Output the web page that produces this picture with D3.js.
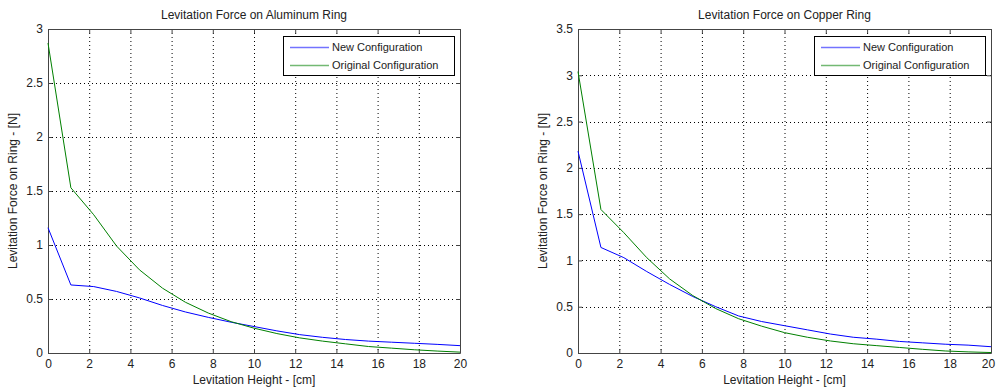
<!DOCTYPE html>
<html>
<head>
<meta charset="utf-8">
<script src="https://cdn.jsdelivr.net/npm/d3@7"></script>
<style>
  body { margin: 0; background: #fff; }
  svg text { font-family: "Liberation Sans", Arial, sans-serif; fill: #222; }
</style>
</head>
<body>
<div id="chart"></div>
<script>
// Levitation height samples [cm]
const heights = [0, 1.11, 2.22, 3.33, 4.44, 5.56, 6.67, 7.78, 8.89, 10,
                 11.11, 12.22, 13.33, 14.44, 15.56, 16.67, 17.78, 18.89, 20];

// Aluminum ring force [N]
const aluNew = [1.16, 0.63, 0.615, 0.57, 0.51, 0.44, 0.38, 0.33, 0.285, 0.245,
                0.205, 0.17, 0.145, 0.125, 0.11, 0.10, 0.09, 0.08, 0.068];
const aluOrig = [2.87, 1.53, 1.28, 0.99, 0.77, 0.60, 0.47, 0.37, 0.29, 0.23,
                 0.18, 0.14, 0.11, 0.085, 0.06, 0.045, 0.03, 0.018, 0.008];

// Copper ring force [N]
const cuNew = [2.18, 1.14, 1.03, 0.88, 0.74, 0.61, 0.50, 0.40, 0.34, 0.295,
               0.25, 0.205, 0.17, 0.15, 0.125, 0.11, 0.095, 0.085, 0.068];
const cuOrig = [3.04, 1.55, 1.30, 1.03, 0.80, 0.62, 0.48, 0.37, 0.29, 0.22,
                0.17, 0.13, 0.10, 0.08, 0.06, 0.04, 0.022, 0.012, 0.005];

const xTicks = [0, 2, 4, 6, 8, 10, 12, 14, 16, 18, 20];
const yTicksAlu = [0, 0.5, 1, 1.5, 2, 2.5, 3];
const yTicksCu = [0, 0.5, 1, 1.5, 2, 2.5, 3, 3.5];
const seriesNames = ["New Configuration", "Original Configuration"];
const seriesColors = ["#0000ff", "#008000"];

const svg = d3.select("#chart").append("svg")
    .attr("width", 996)
    .attr("height", 387);

function drawPanel(cfg) {
    const g = svg.append("g");
    const x = d3.scaleLinear().domain([0, 20]).range([cfg.left, cfg.right]);
    const y = d3.scaleLinear().domain([0, cfg.yMax]).range([cfg.bottom, cfg.top]);

    // grid lines
    g.append("g").selectAll("line")
        .data(xTicks.slice(1, -1))
        .join("line")
        .attr("x1", d => x(d) + 0.5).attr("x2", d => x(d) + 0.5)
        .attr("y1", cfg.top).attr("y2", cfg.bottom)
        .attr("stroke", "#000").attr("stroke-dasharray", "1,3");
    g.append("g").selectAll("line")
        .data(cfg.yTicks.slice(1, -1))
        .join("line")
        .attr("y1", d => Math.round(y(d)) + 0.5).attr("y2", d => Math.round(y(d)) + 0.5)
        .attr("x1", cfg.left).attr("x2", cfg.right)
        .attr("stroke", "#000").attr("stroke-dasharray", "1,3");

    // axes with inward ticks
    const axB = g.append("g").attr("transform", `translate(0,${cfg.bottom})`)
        .call(d3.axisBottom(x).tickValues(xTicks).tickSizeInner(-4).tickSizeOuter(0).tickPadding(6));
    const axT = g.append("g").attr("transform", `translate(0,${cfg.top})`)
        .call(d3.axisTop(x).tickValues(xTicks).tickSizeInner(-4).tickSizeOuter(0).tickFormat(""));
    const axL = g.append("g").attr("transform", `translate(${cfg.left},0)`)
        .call(d3.axisLeft(y).tickValues(cfg.yTicks).tickSizeInner(-4).tickSizeOuter(0).tickPadding(5)
            .tickFormat(d3.format("")));
    const axR = g.append("g").attr("transform", `translate(${cfg.right},0)`)
        .call(d3.axisRight(y).tickValues(cfg.yTicks).tickSizeInner(-4).tickSizeOuter(0).tickFormat(""));
    [axB, axT, axL, axR].forEach(a => {
        a.select(".domain").attr("stroke", "#444");
        a.selectAll(".tick line").attr("stroke", "#444");
        a.selectAll("text").style("font-size", "12px").attr("fill", "#333");
    });
    // keep the last x label inside the page
    if (cfg.lastDx) axB.selectAll(".tick text").filter(d => d === 20).attr("dx", cfg.lastDx);

    // series lines
    const line = d3.line().x((d, i) => x(heights[i])).y(d => y(d));
    cfg.series.forEach((s, k) => {
        g.append("path")
            .datum(s)
            .attr("d", line)
            .attr("fill", "none")
            .attr("stroke", seriesColors[k])
            .attr("stroke-width", 1);
    });

    // title and labels
    g.append("text")
        .attr("x", (cfg.left + cfg.right) / 2).attr("y", 19)
        .attr("text-anchor", "middle").style("font-size", "12px")
        .text(cfg.title);
    g.append("text")
        .attr("x", (cfg.left + cfg.right) / 2).attr("y", 384)
        .attr("text-anchor", "middle").style("font-size", "12px")
        .text("Levitation Height - [cm]");
    g.append("text")
        .attr("transform", `translate(${cfg.left - 31},${(cfg.top + cfg.bottom) / 2}) rotate(-90)`)
        .attr("text-anchor", "middle").style("font-size", "12px")
        .text("Levitation Force on Ring - [N]");

    // legend
    const lg = g.append("g").attr("transform", `translate(${cfg.right - 177},${cfg.top + 7})`);
    lg.append("rect")
        .attr("x", 0.5).attr("y", 0.5).attr("width", 171).attr("height", 39)
        .attr("fill", "#fff").attr("stroke", "#000");
    seriesNames.forEach((name, k) => {
        const ly = 11 + k * 18;
        lg.append("line")
            .attr("x1", 7).attr("x2", 46).attr("y1", ly + 0.5).attr("y2", ly + 0.5)
            .attr("stroke", seriesColors[k]).attr("stroke-opacity", 0.55).attr("stroke-width", 1.5);
        lg.append("text")
            .attr("x", 49).attr("y", ly + 4).style("font-size", "11px")
            .text(name);
    });
}

drawPanel({
    left: 48, right: 460, top: 29, bottom: 353, yMax: 3,
    yTicks: yTicksAlu, series: [aluNew, aluOrig],
    title: "Levitation Force on Aluminum Ring"
});
drawPanel({
    left: 578, right: 991, top: 29, bottom: 353, yMax: 3.5,
    yTicks: yTicksCu, series: [cuNew, cuOrig],
    title: "Levitation Force on Copper Ring",
    lastDx: -3
});
</script>
</body>
</html>
